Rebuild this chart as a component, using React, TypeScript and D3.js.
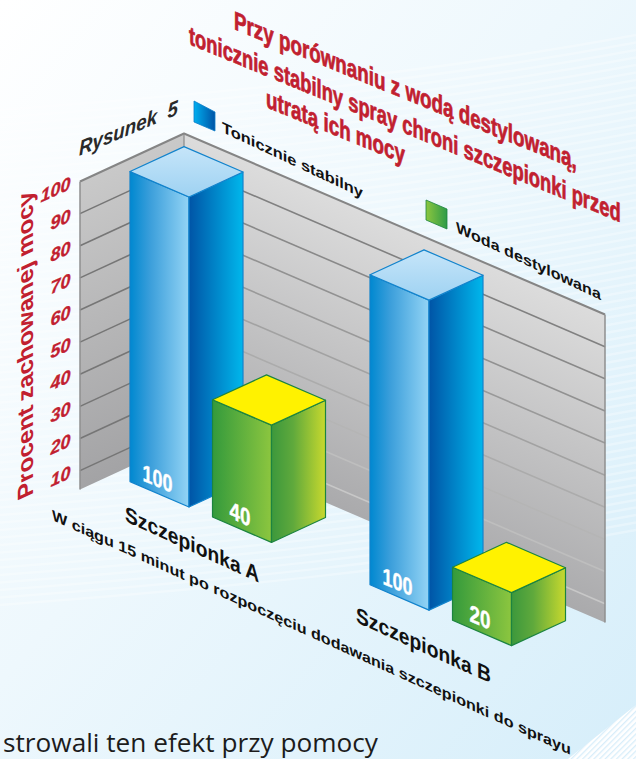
import React from "react";
import * as d3 from "d3";

const WIDTH = 636;
const HEIGHT = 759;

// Chart data
const vaccines = ["Szczepionka A", "Szczepionka B"];
const seriesNames = ["Tonicznie stabilny", "Woda destylowana"];
const tonicValues = [100, 100];
const waterValues = [40, 20];
const valueTicks = [10, 20, 30, 40, 50, 60, 70, 80, 90, 100];

const titleLines = [
  "Przy porównaniu z wodą destylowaną,",
  "tonicznie stabilny spray chroni szczepionki przed",
  "utratą ich mocy",
];
const figureLabel = "Rysunek  5";
const yAxisTitle = "Procent zachowanej mocy";
const xAxisTitle = "W ciągu 15 minut po rozpoczęciu dodawania szczepionki do sprayu";
const bodyFragment = "strowali ten efekt przy pomocy";

// Isometric floor: u runs to the lower right, v to the lower left
const ORIGIN = { x: 184, y: 441.5 };
const U_SLOPE = 0.43;
const V_SLOPE = 0.4615;
const project = (u: number, v: number, h = 0): [number, number] => [
  ORIGIN.x + u - v,
  ORIGIN.y + U_SLOPE * u + V_SLOPE * v - h,
];

const wallU = d3.scaleLinear().domain([0, 1]).range([0, 421]);
const wallV = d3.scaleLinear().domain([0, 1]).range([0, 104]);
const valueScale = d3.scaleLinear().domain([3.5, 100]).range([0, 310]);
// The walls sit slightly above the floor the bars stand on
const WALL_LIFT = 2;
const wallHeight = (t: number) => valueScale(t) - WALL_LIFT;
const categoryScale = d3.scaleBand<string>().domain(vaccines).range([17, 497]);
const seriesScale = d3
  .scaleBand<string>()
  .domain(seriesNames)
  .range([0, 141.5])
  .paddingInner(0.285);
const barV = d3.scaleLinear().domain([0, 1]).range([17, 71]);

const path = d3
  .line<[number, number]>()
  .x((d) => d[0])
  .y((d) => d[1]);
const poly = (pts: [number, number][]) => path(pts) + "Z";

const RED = "#c1202f";
const sans = "'Liberation Sans', Arial, sans-serif";
const narrow = "'Liberation Sans Narrow', 'Liberation Sans', sans-serif";
const body = "'Open Sans', sans-serif";

const measureCtx = document.createElement("canvas").getContext("2d")!;
function naturalWidth(text: string, font: string) {
  measureCtx.font = font;
  return measureCtx.measureText(text).width;
}

type Bar = {
  key: string;
  series: number;
  value: number;
  u0: number;
  u1: number;
};

const bars: Bar[] = vaccines.flatMap((name, i) =>
  seriesNames.map((s, j) => {
    const u0 = categoryScale(name)! + seriesScale(s)!;
    return {
      key: name + s,
      series: j,
      value: (j === 0 ? tonicValues : waterValues)[i],
      u0,
      u1: u0 + seriesScale.bandwidth(),
    };
  })
);

// Text sheared onto an isometric plane; `len` fits its horizontal extent
function Skewed({
  x,
  y,
  k,
  len,
  size,
  fill,
  family = sans,
  weight = 700,
  style = "normal",
  anchor = "start",
  bolden = 0,
  children,
}: {
  x: number;
  y: number;
  k: number;
  len?: number;
  size: number;
  fill: string;
  family?: string;
  weight?: number;
  style?: string;
  anchor?: string;
  bolden?: number;
  children: string | number;
}) {
  const label = String(children);
  const a = len ? len / naturalWidth(label, `${style} ${weight} ${size}px ${family}`) : 1;
  return (
    <text
      transform={`matrix(${a},${k * a},0,1,${x},${y})`}
      fontFamily={family}
      fontSize={size}
      fontWeight={weight}
      fontStyle={style}
      fill={fill}
      stroke={bolden ? fill : "none"}
      strokeWidth={bolden}
      textAnchor={anchor}
      style={{ whiteSpace: "pre" }}
    >
      {label}
    </text>
  );
}

function LinearDef({ id, stops }: { id: string; stops: [number, string][] }) {
  return (
    <linearGradient id={id} x1="0" y1="0" x2="1" y2="0">
      {stops.map(([o, c]) => (
        <stop key={o} offset={o} stopColor={c} />
      ))}
    </linearGradient>
  );
}

function BarBox({ bar }: { bar: Bar }) {
  const h = valueScale(bar.value);
  const vFront = barV(1);
  const vBack = barV(0);
  const { u0, u1 } = bar;
  const stroke = bar.series === 0 ? "#1283cc" : "#1c8440";
  const prefix = bar.series === 0 ? "blue" : "green";
  const left = poly([
    project(u0, vFront, h),
    project(u1, vFront, h),
    project(u1, vFront, 0),
    project(u0, vFront, 0),
  ]);
  const right = poly([
    project(u1, vFront, h),
    project(u1, vBack, h),
    project(u1, vBack, 0),
    project(u1, vFront, 0),
  ]);
  const top = poly([
    project(u0, vFront, h),
    project(u0, vBack, h),
    project(u1, vBack, h),
    project(u1, vFront, h),
  ]);
  const [lx, ly] = project((u0 + u1) / 2 - 2, vFront, 6.5);
  return (
    <g strokeWidth={1.2} stroke={stroke} strokeLinejoin="round">
      <path d={left} fill={`url(#${prefix}Left)`} />
      <path d={right} fill={`url(#${prefix}Right)`} />
      <path d={top} fill={bar.series === 0 ? "url(#blueTop)" : "#fff200"} />
      <Skewed
        x={lx}
        y={ly}
        k={U_SLOPE}
        size={24}
        fill="#ffffff"
        family={narrow}
        anchor="middle"
        bolden={0.4}
        len={bar.value === 100 ? 30 : 21}
      >
        {bar.value}
      </Skewed>
    </g>
  );
}

export default function App() {
  const uMax = wallU(1);
  const vMax = wallV(1);
  const hTop = wallHeight(100);
  const hFloor = 0;

  const rightWall = poly([
    project(0, 0, hTop),
    project(uMax, 0, hTop),
    project(uMax, 0, hFloor),
    project(0, 0, hFloor),
  ]);
  const leftWall = poly([
    project(0, 0, hTop),
    project(0, vMax, hTop),
    project(0, vMax, hFloor),
    project(0, 0, hFloor),
  ]);
  const stripes = d3.range(110, 610, 7.5);

  const yTitleFont = `700 22px ${sans}`;
  const yTitleScale = 306 / naturalWidth(yAxisTitle, yTitleFont);

  return (
    <svg
      width={WIDTH}
      height={HEIGHT}
      viewBox={`0 0 ${WIDTH} ${HEIGHT}`}
      style={{ position: "fixed", left: 0, top: 0, display: "block" }}
    >
      <defs>
        <linearGradient id="page" x1="0" y1="0" x2="1" y2="1">
          <stop offset="0" stopColor="#ffffff" />
          <stop offset="0.45" stopColor="#eef8fd" />
          <stop offset="1" stopColor="#d6eefa" />
        </linearGradient>
        <linearGradient
          id="rightWallFill"
          gradientUnits="userSpaceOnUse"
          gradientTransform={`matrix(1,${U_SLOPE},0,1,0,0)`}
          x1="0"
          y1="53.5"
          x2="0"
          y2="363"
        >
          <stop offset="0" stopColor="#dcdcdc" />
          <stop offset="1" stopColor="#aaaaac" />
        </linearGradient>
        <linearGradient
          id="leftWallFill"
          gradientUnits="userSpaceOnUse"
          gradientTransform={`matrix(1,${-V_SLOPE},0,1,0,0)`}
          x1="0"
          y1="218"
          x2="0"
          y2="527"
        >
          <stop offset="0" stopColor="#c9c9c9" />
          <stop offset="1" stopColor="#a3a3a5" />
        </linearGradient>
        <linearGradient
          id="rightGrid"
          gradientUnits="userSpaceOnUse"
          gradientTransform={`matrix(1,${U_SLOPE},0,1,0,0)`}
          x1="0"
          y1="53.5"
          x2="0"
          y2="363"
        >
          <stop offset="0" stopColor="#787878" />
          <stop offset="0.5" stopColor="#a0a0a0" />
          <stop offset="1" stopColor="#cdcdcd" />
        </linearGradient>
        <LinearDef id="blueLeft" stops={[[0, "#0088d0"], [0.35, "#3c9fdb"], [1, "#93d4f5"]]} />
        <LinearDef id="blueRight" stops={[[0, "#0054a6"], [1, "#00b7ec"]]} />
        <linearGradient id="blueTop" x1="0" y1="1" x2="0" y2="0">
          <stop offset="0" stopColor="#9ed2f2" />
          <stop offset="1" stopColor="#c6e5f9" />
        </linearGradient>
        <LinearDef id="greenLeft" stops={[[0, "#349a3c"], [1, "#8cc63f"]]} />
        <LinearDef id="greenRight" stops={[[0, "#3c983c"], [0.4, "#5fa93c"], [1, "#c8d92e"]]} />
        <LinearDef id="legendBlue" stops={[[0, "#00aeef"], [1, "#0054a6"]]} />
        <LinearDef id="legendGreen" stops={[[0, "#8cc63f"], [1, "#2e9b47"]]} />
        <pattern
          id="cornerHatch"
          width="4"
          height="4"
          patternUnits="userSpaceOnUse"
          patternTransform="rotate(-45)"
        >
          <rect width="4" height="4" fill="#ffffff" />
          <rect width="4" height="1.3" fill="#d8eefa" />
        </pattern>
      </defs>

      {/* Page background with faint bands */}
      <rect width={WIDTH} height={HEIGHT} fill="url(#page)" />
      <g stroke="#ffffff" strokeOpacity={0.3} strokeWidth={2.5} fill="none">
        {stripes.map((y) => (
          <path key={y} d={`M0,${y}C200,${y - 15} 420,${y - 35} 636,${y - 75}`} />
        ))}
      </g>
      <path d="M568,759L636,705V759Z" fill="url(#cornerHatch)" />

      <Skewed x={3} y={752} k={0} size={26} len={375} weight={400} family={body} fill="#1c1c1c">
        {bodyFragment}
      </Skewed>

      {/* Walls and gridlines */}
      <path d={leftWall} fill="url(#leftWallFill)" />
      <path d={rightWall} fill="url(#rightWallFill)" />
      <g fill="none">
        {valueTicks.slice(0, -1).map((t) => {
          const h = wallHeight(t);
          return (
            <g key={t}>
              <path d={path([project(0, 0, h), project(0, vMax, h)])!} stroke="#767676" strokeWidth={1.6} />
              <path d={path([project(0, 0, h), project(uMax, 0, h)])!} stroke="url(#rightGrid)" strokeWidth={1.6} />
            </g>
          );
        })}
        <path
          d={path([project(0, vMax, hTop), project(0, 0, hTop), project(uMax, 0, hTop)])!}
          stroke="#858585"
          strokeWidth={2}
          strokeLinejoin="round"
        />
        <path d={path([project(0, 0, hTop), project(0, 0, hFloor)])!} stroke="#8a8a8a" strokeWidth={1.2} />
        <path d={path([project(0, vMax, hTop), project(0, vMax, hFloor)])!} stroke="#8f8f8f" strokeWidth={1.5} />
        <path d={path([project(uMax, 0, hTop), project(uMax, 0, hFloor)])!} stroke="#8f8f8f" strokeWidth={1.5} />
      </g>

      {bars.map((b) => (
        <BarBox key={b.key} bar={b} />
      ))}

      {/* Value axis labels */}
      {valueTicks.map((t) => {
        const [x, y] = project(0, vMax + 9.5, wallHeight(t));
        return (
          <Skewed key={t} x={x} y={y + 3} k={-V_SLOPE} size={18} fill={RED} style="italic" anchor="end" bolden={0.3}>
            {t}
          </Skewed>
        );
      })}

      <text
        transform={`matrix(0,${-yTitleScale},1,-0.46,33,495)`}
        fontFamily={sans}
        fontSize={22}
        fontWeight={700}
        fill={RED}
      >
        {yAxisTitle}
      </text>

      <Skewed x={79} y={156} k={-0.42} size={21} len={99} fill="#2a2a2a" style="italic">
        {figureLabel}
      </Skewed>

      {/* Legend */}
      <path d="M194,101L215,112V131L194,122Z" fill="url(#legendBlue)" stroke="#0a7cc8" strokeWidth={0.8} />
      <Skewed x={222} y={132} k={0.47} size={15} len={141} fill="#111111">
        {seriesNames[0]}
      </Skewed>
      <path d="M426,200L447,209V229L426,220Z" fill="url(#legendGreen)" stroke="#1c8440" strokeWidth={0.8} />
      <Skewed x={456} y={232} k={0.47} size={15} len={145} fill="#111111">
        {seriesNames[1]}
      </Skewed>

      {/* Category and axis captions */}
      <Skewed x={125} y={521} k={0.46} size={22} len={135} fill="#111111">
        {vaccines[0]}
      </Skewed>
      <Skewed x={356} y={622} k={0.455} size={22} len={135} fill="#111111">
        {vaccines[1]}
      </Skewed>
      <Skewed x={52} y={520} k={0.453} size={15} len={519} fill="#111111">
        {xAxisTitle}
      </Skewed>

      {/* Headline */}
      <Skewed x={234} y={29} k={0.41} size={26} len={343} fill={RED} family={narrow} bolden={0.7}>
        {titleLines[0]}
      </Skewed>
      <Skewed x={189} y={44} k={0.413} size={26} len={432} fill={RED} family={narrow} bolden={0.7}>
        {titleLines[1]}
      </Skewed>
      <Skewed x={266} y={107} k={0.41} size={26} len={139} fill={RED} family={narrow} bolden={0.7}>
        {titleLines[2]}
      </Skewed>
    </svg>
  );
}
